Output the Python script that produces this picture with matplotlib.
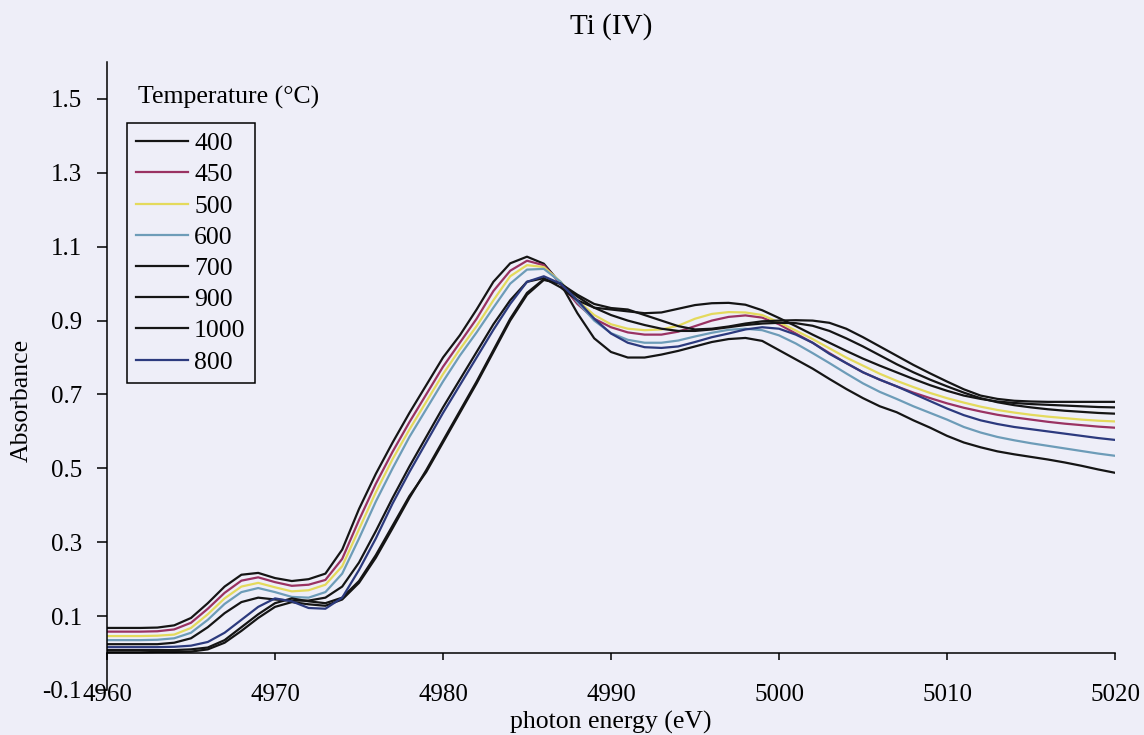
import matplotlib
matplotlib.use("Agg")
import matplotlib.pyplot as plt

plt.rcParams['font.family'] = ['Liberation Serif', 'DejaVu Serif']

# Photon energy grid (eV)
energy = list(range(4960, 5021))

# Ti K-edge absorbance for each calcination temperature
abs_400 = [0.068, 0.068, 0.068, 0.069, 0.075, 0.095, 0.135, 0.180, 0.212, 0.217,
           0.203, 0.195, 0.200, 0.215, 0.280, 0.390, 0.485, 0.570, 0.650, 0.725,
           0.800, 0.860, 0.930, 1.005, 1.055, 1.073, 1.054, 1.000, 0.920, 0.852,
           0.815, 0.800, 0.800, 0.808, 0.818, 0.830, 0.842, 0.850, 0.853, 0.845,
           0.820, 0.795, 0.770, 0.742, 0.715, 0.690, 0.668, 0.652, 0.630, 0.610,
           0.588, 0.570, 0.557, 0.546, 0.538, 0.531, 0.524, 0.516, 0.507, 0.497,
           0.488]
abs_450 = [0.058, 0.058, 0.058, 0.059, 0.064, 0.082, 0.120, 0.163, 0.196, 0.205,
           0.192, 0.182, 0.185, 0.198, 0.255, 0.360, 0.458, 0.545, 0.625, 0.700,
           0.775, 0.840, 0.905, 0.980, 1.035, 1.062, 1.050, 1.000, 0.945, 0.905,
           0.882, 0.868, 0.862, 0.862, 0.870, 0.885, 0.900, 0.910, 0.914, 0.908,
           0.890, 0.865, 0.840, 0.812, 0.785, 0.760, 0.740, 0.722, 0.705, 0.690,
           0.676, 0.664, 0.654, 0.645, 0.638, 0.632, 0.626, 0.621, 0.617, 0.613,
           0.610]
abs_500 = [0.046, 0.046, 0.046, 0.047, 0.050, 0.068, 0.105, 0.148, 0.180, 0.190,
           0.178, 0.167, 0.170, 0.185, 0.235, 0.335, 0.435, 0.525, 0.605, 0.680,
           0.755, 0.822, 0.885, 0.955, 1.020, 1.050, 1.045, 1.005, 0.955, 0.915,
           0.890, 0.878, 0.874, 0.876, 0.886, 0.905, 0.918, 0.923, 0.922, 0.915,
           0.895, 0.873, 0.850, 0.825, 0.800, 0.778, 0.756, 0.737, 0.720, 0.704,
           0.690, 0.678, 0.667, 0.658, 0.651, 0.645, 0.640, 0.636, 0.632, 0.629,
           0.627]
abs_600 = [0.035, 0.035, 0.035, 0.036, 0.040, 0.055, 0.090, 0.133, 0.165, 0.176,
           0.165, 0.152, 0.150, 0.165, 0.215, 0.310, 0.410, 0.500, 0.585, 0.660,
           0.735, 0.805, 0.868, 0.935, 1.000, 1.038, 1.040, 1.005, 0.950, 0.900,
           0.866, 0.848, 0.840, 0.840, 0.846, 0.857, 0.867, 0.875, 0.878, 0.874,
           0.860, 0.838, 0.812, 0.785, 0.757, 0.730, 0.707, 0.688, 0.668, 0.650,
           0.632, 0.612, 0.597, 0.585, 0.576, 0.568, 0.561, 0.554, 0.547, 0.540,
           0.534]
abs_700 = [0.024, 0.024, 0.024, 0.024, 0.028, 0.040, 0.070, 0.108, 0.138, 0.150,
           0.145, 0.142, 0.142, 0.150, 0.180, 0.245, 0.330, 0.420, 0.505, 0.585,
           0.665, 0.740, 0.815, 0.890, 0.955, 1.005, 1.015, 0.990, 0.955, 0.935,
           0.930, 0.925, 0.920, 0.922, 0.932, 0.942, 0.947, 0.948, 0.943, 0.928,
           0.907, 0.885, 0.862, 0.840, 0.818, 0.797, 0.778, 0.760, 0.742, 0.725,
           0.710, 0.697, 0.688, 0.681, 0.677, 0.674, 0.672, 0.670, 0.668, 0.666,
           0.665]
abs_900 = [0.008, 0.008, 0.008, 0.008, 0.008, 0.010, 0.015, 0.035, 0.070, 0.105,
           0.135, 0.148, 0.140, 0.135, 0.150, 0.195, 0.265, 0.345, 0.425, 0.490,
           0.570, 0.650, 0.730, 0.815, 0.900, 0.970, 1.010, 1.000, 0.970, 0.945,
           0.934, 0.930, 0.915, 0.900, 0.885, 0.876, 0.878, 0.884, 0.892, 0.898,
           0.900, 0.901, 0.900, 0.894, 0.878, 0.855, 0.830, 0.805, 0.780, 0.757,
           0.735, 0.714, 0.697, 0.688, 0.683, 0.681, 0.680, 0.680, 0.680, 0.680,
           0.680]
abs_1000 = [0.002, 0.002, 0.002, 0.003, 0.003, 0.004, 0.010, 0.028, 0.060, 0.095,
            0.125, 0.138, 0.132, 0.128, 0.145, 0.190, 0.258, 0.338, 0.420, 0.495,
            0.575, 0.655, 0.735, 0.820, 0.905, 0.975, 1.012, 1.000, 0.965, 0.935,
            0.915, 0.900, 0.888, 0.878, 0.872, 0.872, 0.876, 0.882, 0.888, 0.892,
            0.894, 0.893, 0.886, 0.872, 0.852, 0.830, 0.806, 0.782, 0.760, 0.740,
            0.722, 0.705, 0.690, 0.679, 0.671, 0.665, 0.660, 0.656, 0.653, 0.650,
            0.648]
abs_800 = [0.016, 0.016, 0.016, 0.016, 0.017, 0.020, 0.030, 0.055, 0.090, 0.125,
           0.148, 0.140, 0.122, 0.120, 0.150, 0.225, 0.310, 0.405, 0.490, 0.570,
           0.650, 0.725, 0.800, 0.875, 0.945, 1.005, 1.020, 1.000, 0.955, 0.905,
           0.865, 0.840, 0.828, 0.826, 0.830, 0.842, 0.855, 0.865, 0.876, 0.882,
           0.878, 0.862, 0.840, 0.810, 0.785, 0.760, 0.740, 0.722, 0.702, 0.682,
           0.662, 0.644, 0.630, 0.620, 0.612, 0.606, 0.600, 0.594, 0.588, 0.582,
           0.577]

temperatures = ['400', '450', '500', '600', '700', '900', '1000', '800']
series = [abs_400, abs_450, abs_500, abs_600, abs_700, abs_900, abs_1000, abs_800]
colors = ['#151515', '#9a3262', '#e4da5c', '#6d9cb8', '#151515', '#151515',
          '#151515', '#2c3a7e']

x_ticks = [4960, 4970, 4980, 4990, 5000, 5010, 5020]
y_ticks = [-0.1, 0.1, 0.3, 0.5, 0.7, 0.9, 1.1, 1.3, 1.5]

bg = '#eeeef8'
W, H = 1144, 735
fig = plt.figure(figsize=(W / 100, H / 100), dpi=100, facecolor=bg)
ax = fig.add_axes([107 / W, 1 - 690 / H, (1115 - 107) / W, (690 - 62) / H])
ax.set_facecolor(bg)

for temp, vals, col in zip(temperatures, series, colors):
    ax.plot(energy, vals, color=col, lw=1.6, label=temp)

ax.set_xlim(4960, 5020)
ax.set_ylim(-0.1, 1.6)
ax.set_xticks(x_ticks)
ax.set_yticks(y_ticks)
ax.set_yticklabels(['-0.1'] + [f'{t:.1f}' for t in y_ticks[1:]])

for side in ('top', 'right'):
    ax.spines[side].set_visible(False)
ax.spines['bottom'].set_position(('data', 0))
ax.spines['left'].set_linewidth(1.1)
ax.spines['bottom'].set_linewidth(1.1)
ax.tick_params(axis='x', direction='out', length=5, width=1.1, pad=17,
               labelsize=18)
ax.tick_params(axis='y', direction='out', length=7, width=1.1, pad=11,
               labelsize=18)

leg = ax.legend(loc='upper left',
                bbox_to_anchor=((127 - 107) / 1008, (690 - 123) / 628),
                borderaxespad=0, frameon=True, fancybox=False, fontsize=18.5,
                handlelength=2.0, handletextpad=0.25, labelspacing=0.32,
                borderpad=0.36)
frame = leg.get_frame()
frame.set_edgecolor('black')
frame.set_facecolor(bg)
frame.set_linewidth(1.1)
frame.set_alpha(1)

fig.text(138 / W, 1 - 97 / H, 'Temperature (°C)', ha='left', va='center',
         fontsize=18.5)
fig.text(611 / W, 1 - 27 / H, 'Ti (IV)', ha='center', va='center', fontsize=21)
fig.text(611 / W, 1 - 722 / H, 'photon energy (eV)', ha='center', va='center',
         fontsize=18.5)
fig.text(22 / W, 1 - 400 / H, 'Absorbance', ha='center', va='center',
         rotation=90, fontsize=18.5)

fig.savefig('out.png', dpi=100, facecolor=bg)
